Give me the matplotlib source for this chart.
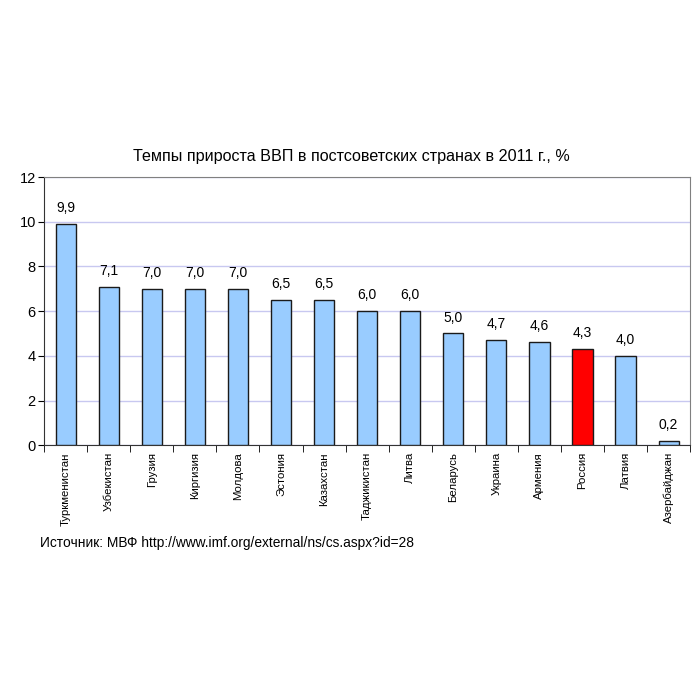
import matplotlib
matplotlib.use('Agg')
import matplotlib.pyplot as plt
import numpy as np

plt.rcParams['font.family'] = ['Liberation Sans', 'DejaVu Sans']

# данные
countries = ['Туркменистан', 'Узбекистан', 'Грузия', 'Киргизия', 'Молдова',
             'Эстония', 'Казахстан', 'Таджикистан', 'Литва', 'Беларусь',
             'Украина', 'Армения', 'Россия', 'Латвия', 'Азербайджан']
growth = [9.9, 7.1, 7.0, 7.0, 7.0, 6.5, 6.5, 6.0, 6.0, 5.0, 4.7, 4.6, 4.3, 4.0, 0.2]
highlight = 'Россия'

fig = plt.figure(figsize=(7, 7), dpi=100)
ax = fig.add_axes([0.063, 0.364, 0.923, 0.383])

x = np.arange(len(countries))
colors = ['#ff0000' if c == highlight else '#99ccff' for c in countries]
bars = ax.bar(x, growth, width=0.47, color=colors, edgecolor='#1a1a1a', linewidth=1.0, zorder=3)

for xi, v in zip(x, growth):
    ax.text(xi, v + 0.4, f'{v:.1f}'.replace('.', ','), ha='center', va='bottom', fontsize=10)

ax.set_xlim(-0.5, len(countries) - 0.5)
ax.set_ylim(0, 12)
ax.set_yticks(range(0, 13, 2))
ax.tick_params(axis='y', labelsize=10.5, direction='out', length=4, pad=2)
ax.yaxis.grid(True, color='#c8c8f0', linewidth=1.0, zorder=0)

# подписи категорий
ax.set_xticks(x)
ax.set_xticklabels(countries, rotation=90, fontsize=8.2, va='top')
ax.tick_params(axis='x', length=0, pad=5)
ax.set_xticks(np.arange(-0.5, len(countries)), minor=True)
ax.tick_params(axis='x', which='minor', direction='out', length=5)

ax.spines['top'].set_color('#808080')
ax.spines['right'].set_color('#808080')
ax.spines['left'].set_color('#333333')
ax.spines['bottom'].set_color('#333333')

fig.text(0.502, 0.776, 'Темпы прироста ВВП в постсоветских странах в 2011 г., %',
         ha='center', va='center', fontsize=11.6)
fig.text(0.057, 0.224, 'Источник: МВФ http://www.imf.org/external/ns/cs.aspx?id=28',
         ha='left', va='center', fontsize=9.9)

fig.savefig('out.png', dpi=100)
